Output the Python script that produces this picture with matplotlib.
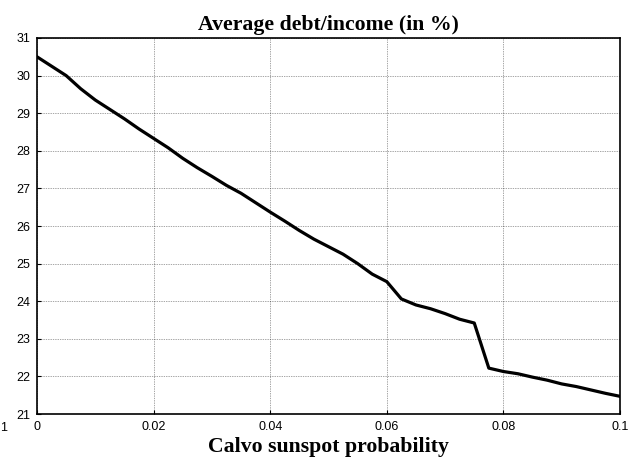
import numpy as np
import matplotlib
matplotlib.use('Agg')
import matplotlib.pyplot as plt

# Calvo sunspot probability grid and average debt/income (%)
calvoProb = np.arange(0, 0.1001, 0.0025)
debtIncome = [30.50, 30.25, 30.00, 29.65, 29.35, 29.10, 28.85, 28.58, 28.33,
              28.08, 27.80, 27.55, 27.32, 27.08, 26.87, 26.62, 26.37, 26.13,
              25.88, 25.65, 25.45, 25.25, 25.00, 24.72, 24.52, 24.06, 23.90,
              23.80, 23.67, 23.52, 23.42, 22.22, 22.13, 22.07, 21.98, 21.90,
              21.80, 21.73, 21.64, 21.55, 21.47]

xTicks = [0, 0.02, 0.04, 0.06, 0.08, 0.1]
xTickLabels = ['0', '0.02', '0.04', '0.06', '0.08', '0.1']
yTicks = list(range(21, 32))

fig = plt.figure(figsize=(6.42, 4.61), dpi=100)
ax = fig.add_axes([37/642, 1 - 414/461, (620-37)/642, (414-38)/461])

ax.plot(calvoProb, debtIncome, color='black', linewidth=2.3)

ax.set_xlim(0, 0.1)
ax.set_ylim(21, 31)
ax.set_xticks(xTicks)
ax.set_xticklabels(xTickLabels)
ax.set_yticks(yTicks)

ax.grid(True, linestyle=(0, (1, 1.5)), color='black', linewidth=0.5, alpha=0.7)
ax.tick_params(direction='in', length=3, labelsize=9, pad=5)
for lbl in ax.get_xticklabels() + ax.get_yticklabels():
    lbl.set_family(['Liberation Sans', 'DejaVu Sans'])
for s in ax.spines.values():
    s.set_linewidth(1.2)

ax.set_title('Average debt/income (in %)', fontsize=15.7, fontweight='bold',
             family='Liberation Serif', pad=6)
ax.set_xlabel('Calvo sunspot probability', fontsize=15.7, fontweight='bold',
              family='Liberation Serif', labelpad=3)

# leftover label fragment at the bottom left edge
fig.text(0.0, 1 - 428/461, '1', fontsize=9, family='Liberation Sans',
         ha='left', va='center')

fig.savefig('out.png', dpi=100)
